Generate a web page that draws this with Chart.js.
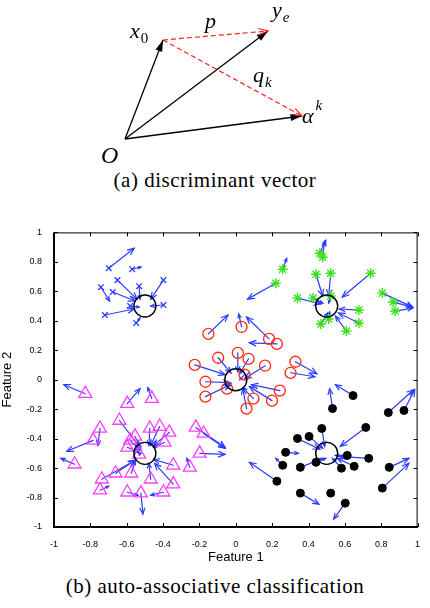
<!DOCTYPE html>
<html>
<head>
<meta charset="utf-8">
<script src="https://cdn.jsdelivr.net/npm/chart.js@4.4.1/dist/chart.umd.min.js"></script>
<style>
  html, body { margin: 0; padding: 0; background: #fff; }
  body { width: 430px; height: 608px; position: relative; overflow: hidden; }
  .box { position: absolute; left: 0; width: 430px; }
  .cap { position: absolute; left: 0; width: 430px; text-align: center; letter-spacing: 0.5px;
         font-family: 'Liberation Serif', 'DejaVu Serif', serif; font-size: 21px; color: #000; }
</style>
</head>
<body>
<div class="box" style="top:0;height:168px"><canvas id="vecChart"></canvas></div>
<div class="cap" style="top:168px">(a) discriminant vector</div>
<div class="box" style="top:220px;height:350px"><canvas id="clsChart"></canvas></div>
<div class="cap" style="top:574px">(b) auto-associative classification</div>
<script>
// ── (a) vector diagram ─────────────────────────────────────────────────────

const vecOrigin = [0, 0];
const vecX0     = [0.38, 0.99];
const vecYe     = [1.43, 1.08];
const vecAlpha  = [1.77, 0.23];

// label anchors (baseline-left of the main glyph)
const vecLabels = [
    { main: 'x', sub: '0', subItalic: false, at: [0.05, 1.01] },
    { main: 'y', sub: 'e', subItalic: true,  at: [1.47, 1.22] },
    { main: 'p',                              at: [0.80, 1.11] },
    { main: 'q', sub: 'k', subItalic: true,  at: [1.28, 0.57] },
    { main: 'α', sup: 'k',                    at: [1.77, 0.16] },
    { main: 'O', size: 24,                    at: [-0.24, -0.24] },
];

// ── (b) classification scatter ─────────────────────────────────────────────

const xTicks      = [-1, -0.8, -0.6, -0.4, -0.2, 0, 0.2, 0.4, 0.6, 0.8, 1];
const xTickLabels = ['-1', '-0.8', '-0.6', '-0.4', '-0.2', '0', '0.2', '0.4', '0.6', '0.8', '1'];
const yTicks      = [-1, -0.8, -0.6, -0.4, -0.2, 0, 0.2, 0.4, 0.6, 0.8, 1];
const yTickLabels = ['-1', '-0.8', '-0.6', '-0.4', '-0.2', '0', '0.2', '0.4', '0.6', '0.8', '1'];

const centers = [[-0.5, 0.5], [0.5, 0.5], [0, 0], [-0.5, -0.5], [0.5, -0.5]];

const crossStart = [[-0.699,0.757],[-0.570,0.750],[-0.651,0.676],[-0.742,0.628],[-0.677,0.595],[-0.532,0.635],
                    [-0.398,0.676],[-0.398,0.507],[-0.720,0.439],[-0.548,0.385],[-0.581,0.500]];
const crossEnd   = [[-0.559,0.892],[-0.522,0.764],[-0.543,0.547],[-0.694,0.534],[-0.554,0.534],[-0.527,0.547],
                    [-0.468,0.547],[-0.468,0.500],[-0.559,0.480],[-0.527,0.419],[-0.532,0.493]];

const starStart = [[0.462,0.858],[0.478,0.831],[0.258,0.750],[0.220,0.655],[0.441,0.716],[0.522,0.723],
                   [0.742,0.723],[0.339,0.554],[0.425,0.554],[0.522,0.568],[0.677,0.473],[0.677,0.385],
                   [0.608,0.331],[0.468,0.378],[0.511,0.412],[0.806,0.588],[0.866,0.527],[0.876,0.466]];
const starEnd   = [[0.495,0.946],[0.489,0.939],[0.280,0.824],[0.065,0.547],[0.478,0.568],[0.511,0.568],
                   [0.586,0.561],[0.468,0.514],[0.478,0.520],[0.511,0.520],[0.570,0.480],[0.565,0.453],
                   [0.548,0.432],[0.505,0.453],[0.516,0.459],[0.973,0.493],[0.973,0.493],[0.973,0.486]];

const ringStart = [[-0.151,0.311],[0.032,0.358],[0.183,0.277],[0.226,0.243],[-0.226,0.101],[-0.097,0.149],
                   [0.011,0.182],[0.070,0.142],[0.161,0.095],[0.048,0.034],[-0.167,-0.014],[-0.048,-0.061],
                   [-0.167,-0.115],[0.097,-0.128],[0.242,-0.074],[0.199,-0.142],[0.059,-0.196],[0.328,0.122],
                   [0.301,0.047]];
const ringEnd   = [[-0.043,0.439],[0.016,0.446],[0.059,0.426],[0.075,0.250],[-0.059,0.034],[-0.027,0.047],
                   [0.011,0.054],[0.022,0.041],[0.048,0.007],[0.022,0.000],[-0.032,-0.020],[-0.027,-0.027],
                   [-0.032,-0.034],[0.038,-0.054],[0.086,-0.034],[0.075,-0.047],[0.038,-0.061],[0.446,0.041],
                   [0.435,0.020]];

const triStart = [[-0.828,-0.095],[-0.597,-0.162],[-0.462,-0.128],[-0.747,-0.331],[-0.785,-0.412],[-0.640,-0.277],
                  [-0.581,-0.412],[-0.554,-0.385],[-0.597,-0.459],[-0.473,-0.331],[-0.419,-0.318],[-0.366,-0.358],
                  [-0.392,-0.426],[-0.220,-0.324],[-0.177,-0.365],[-0.199,-0.500],[-0.253,-0.595],[-0.344,-0.581],
                  [-0.344,-0.709],[-0.468,-0.676],[-0.575,-0.635],[-0.661,-0.635],[-0.737,-0.676],[-0.747,-0.750],
                  [-0.887,-0.574],[-0.597,-0.764],[-0.522,-0.770],[-0.398,-0.764],[-0.532,-0.507]];
const triEnd   = [[-0.946,-0.034],[-0.527,-0.061],[-0.484,-0.054],[-0.758,-0.446],[-0.930,-0.486],[-0.527,-0.459],
                  [-0.527,-0.480],[-0.522,-0.473],[-0.532,-0.493],[-0.478,-0.446],[-0.468,-0.446],[-0.452,-0.446],
                  [-0.452,-0.459],[-0.059,-0.459],[-0.059,-0.466],[-0.059,-0.507],[-0.269,-0.534],[-0.452,-0.541],
                  [-0.446,-0.568],[-0.478,-0.568],[-0.554,-0.554],[-0.554,-0.547],[-0.554,-0.547],[-0.699,-0.723],
                  [-0.962,-0.534],[-0.538,-0.784],[-0.511,-0.912],[-0.468,-0.784],[-0.522,-0.500]];

const dotStart = [[0.645,-0.108],[0.532,-0.196],[0.839,-0.223],[0.925,-0.209],[0.715,-0.324],[0.473,-0.331],
                  [0.339,-0.399],[0.403,-0.385],[0.274,-0.493],[0.258,-0.581],[0.355,-0.595],[0.441,-0.561],
                  [0.613,-0.514],[0.731,-0.534],[0.651,-0.588],[0.581,-0.601],[0.844,-0.595],[0.806,-0.736],
                  [0.226,-0.689],[0.355,-0.770],[0.522,-0.770],[0.602,-0.838]];
const dotEnd   = [[0.548,-0.034],[0.516,-0.061],[0.978,-0.068],[0.984,-0.068],[0.575,-0.453],[0.489,-0.453],
                  [0.462,-0.473],[0.478,-0.466],[0.344,-0.500],[0.220,-0.534],[0.478,-0.534],[0.495,-0.534],
                  [0.548,-0.514],[0.570,-0.520],[0.559,-0.534],[0.532,-0.534],[0.952,-0.534],[0.952,-0.568],
                  [0.075,-0.561],[0.457,-0.845],[0.522,-0.770],[0.538,-0.946]];

const QUIVER_BLUE = '#2a3cff';
const MATH_FONT   = "'Liberation Serif', 'DejaVu Serif', serif";
const AXIS_FONT   = "'Liberation Sans', Arial, sans-serif";

const toXY = arr => arr.map(([x, y]) => ({ x, y }));

// two-stroke "V" head or filled triangle at (x2,y2)
function arrowHead(ctx, x1, y1, x2, y2, len, spread, filled) {
    const ang = Math.atan2(y2 - y1, x2 - x1);
    const lx = x2 - len * Math.cos(ang - spread), ly = y2 - len * Math.sin(ang - spread);
    const rx = x2 - len * Math.cos(ang + spread), ry = y2 - len * Math.sin(ang + spread);
    ctx.beginPath();
    ctx.moveTo(lx, ly);
    ctx.lineTo(x2, y2);
    ctx.lineTo(rx, ry);
    if (filled) { ctx.closePath(); ctx.fill(); } else { ctx.stroke(); }
}

// ── Chart (a) ──────────────────────────────────────────────────────────────

const vecHeads = {
    id: 'vecHeads',
    afterDatasetsDraw(chart) {
        const ctx = chart.ctx;
        chart.data.datasets.forEach((ds, i) => {
            const pts = chart.getDatasetMeta(i).data;
            const a = pts[0], b = pts[1];
            ctx.save();
            ctx.setLineDash([]);
            ctx.fillStyle = ds.borderColor;
            ctx.strokeStyle = ds.borderColor;
            ctx.lineWidth = 1.1;
            if (ds.headFilled) arrowHead(ctx, a.x, a.y, b.x, b.y, 12, 0.3, true);
            else arrowHead(ctx, a.x, a.y, b.x, b.y, 10, 0.33, false);
            ctx.restore();
        });
    },
    afterDraw(chart) {
        const { ctx, scales: { x, y } } = chart;
        ctx.save();
        ctx.fillStyle = '#000';
        ctx.textBaseline = 'alphabetic';
        ctx.textAlign = 'left';
        vecLabels.forEach(l => {
            const px = x.getPixelForValue(l.at[0]);
            const py = y.getPixelForValue(l.at[1]);
            ctx.font = `italic ${l.size || 22}px ${MATH_FONT}`;
            ctx.fillText(l.main, px, py);
            const w = ctx.measureText(l.main).width;
            if (l.sub) {
                ctx.font = `${l.subItalic ? 'italic ' : ''}15px ${MATH_FONT}`;
                ctx.fillText(l.sub, px + w + 1, py + 5);
            }
            if (l.sup) {
                ctx.font = `italic 15px ${MATH_FONT}`;
                ctx.fillText(l.sup, px + w + 2, py - 13);
            }
        });
        ctx.restore();
    },
};

function vecDataset(from, to, color, dashed) {
    return {
        data: toXY([from, to]),
        showLine: true,
        borderColor: color,
        borderWidth: dashed ? 1.2 : 1.3,
        borderDash: dashed ? [5, 3] : [],
        pointRadius: 0,
        headFilled: !dashed,
    };
}

new Chart(document.getElementById('vecChart'), {
    type: 'scatter',
    data: {
        datasets: [
            vecDataset(vecOrigin, vecX0,    '#000', false),
            vecDataset(vecOrigin, vecYe,    '#000', false),
            vecDataset(vecOrigin, vecAlpha, '#000', false),
            vecDataset(vecX0,     vecYe,    '#ff2020', true),
            vecDataset(vecX0,     vecAlpha, '#ff2020', true),
        ],
    },
    options: {
        responsive: true,
        maintainAspectRatio: false,
        animation: false,
        events: [],
        layout: { padding: 0 },
        plugins: { legend: { display: false }, tooltip: { enabled: false } },
        scales: {
            x: { type: 'linear', min: -1.25, max: 3.05, display: false },
            y: { type: 'linear', min: -0.29, max: 1.39, display: false },
        },
    },
    plugins: [vecHeads],
});

// ── Chart (b) ──────────────────────────────────────────────────────────────

const quivers = [
    [crossStart, crossEnd],
    [starStart,  starEnd],
    [ringStart,  ringEnd],
    [triStart,   triEnd],
    [dotStart,   dotEnd],
];

const quiverPlugin = {
    id: 'quiver',
    beforeDatasetsDraw(chart) {
        const { ctx, scales: { x, y } } = chart;
        ctx.save();
        ctx.strokeStyle = QUIVER_BLUE;
        ctx.lineWidth = 1.2;
        ctx.lineCap = 'round';
        quivers.forEach(([from, to]) => {
            from.forEach((p, i) => {
                const x1 = x.getPixelForValue(p[0]), y1 = y.getPixelForValue(p[1]);
                const x2 = x.getPixelForValue(to[i][0]), y2 = y.getPixelForValue(to[i][1]);
                const len = Math.hypot(x2 - x1, y2 - y1);
                if (len < 1) return;
                ctx.beginPath();
                ctx.moveTo(x1, y1);
                ctx.lineTo(x2, y2);
                ctx.stroke();
                arrowHead(ctx, x1, y1, x2, y2, Math.max(2.5, Math.min(7, len * 0.3)), 0.4, false);
            });
        });
        ctx.restore();
    },
};

// box frame with inward ticks on all four sides
const framePlugin = {
    id: 'frame',
    afterDraw(chart) {
        const { ctx, chartArea: a, scales: { x, y } } = chart;
        ctx.save();
        ctx.strokeStyle = '#000';
        ctx.lineWidth = 1;
        ctx.beginPath();
        x.ticks.forEach(t => {
            const px = Math.round(x.getPixelForValue(t.value)) + 0.5;
            ctx.moveTo(px, a.bottom); ctx.lineTo(px, a.bottom - 4);
            ctx.moveTo(px, a.top);    ctx.lineTo(px, a.top + 4);
        });
        y.ticks.forEach(t => {
            const py = Math.round(y.getPixelForValue(t.value)) + 0.5;
            ctx.moveTo(a.left, py);  ctx.lineTo(a.left + 4, py);
            ctx.moveTo(a.right, py); ctx.lineTo(a.right - 4, py);
        });
        ctx.stroke();
        ctx.strokeRect(a.left, a.top + 0.5, a.right - a.left - 0.5, a.bottom - a.top);
        ctx.lineWidth = 2;
        ctx.beginPath();
        ctx.moveTo(a.left, a.top);
        ctx.lineTo(a.left, a.bottom);
        ctx.lineTo(a.right, a.bottom);
        ctx.stroke();
        ctx.restore();
    },
};

function markerSet(pts, style, radius, color, fill, width) {
    return {
        data: toXY(pts),
        pointStyle: style,
        pointRadius: radius,
        borderColor: color,
        backgroundColor: fill,
        pointBorderWidth: width,
        showLine: false,
    };
}

new Chart(document.getElementById('clsChart'), {
    type: 'scatter',
    data: {
        datasets: [
            markerSet(centers,    'circle',    11,  '#000',    'rgba(0,0,0,0)', 1.4),
            markerSet(crossStart, 'crossRot',  4,   QUIVER_BLUE, 'rgba(0,0,0,0)', 1.3),
            markerSet(starStart,  'star',      5,   '#3be01c', 'rgba(0,0,0,0)', 1.4),
            markerSet(ringStart,  'circle',    5.5, '#ff2a10', 'rgba(0,0,0,0)', 1.3),
            markerSet(triStart,   'triangle',  7.5, '#ff3cff', 'rgba(0,0,0,0)', 1.3),
            markerSet(dotStart,   'circle',    4,   '#000',    '#000',          1),
        ],
    },
    options: {
        responsive: true,
        maintainAspectRatio: false,
        animation: false,
        events: [],
        layout: { padding: { left: 0, right: 3, top: 11, bottom: 5 } },
        plugins: { legend: { display: false }, tooltip: { enabled: false } },
        scales: {
            x: {
                type: 'linear', min: -1, max: 1,
                afterBuildTicks: s => { s.ticks = xTicks.map(v => ({ value: v })); },
                afterFit: s => { s.height = 38; },
                grid: { display: false },
                border: { display: false },
                ticks: {
                    padding: 4, color: '#000', maxRotation: 0, autoSkip: false,
                    font: { family: AXIS_FONT, size: 9 },
                    callback: (v, i) => xTickLabels[i],
                },
                title: { display: true, text: 'Feature 1', color: '#000', padding: { top: 5, bottom: 0 },
                         font: { family: AXIS_FONT, size: 13 } },
            },
            y: {
                type: 'linear', min: -1, max: 1,
                afterBuildTicks: s => { s.ticks = yTicks.map(v => ({ value: v })); },
                afterFit: s => { s.width = 54; },
                grid: { display: false },
                border: { display: false },
                ticks: {
                    padding: 4, color: '#000', autoSkip: false,
                    font: { family: AXIS_FONT, size: 9 },
                    callback: (v, i) => yTickLabels[i],
                },
                title: { display: true, text: 'Feature 2', color: '#000', padding: { top: 0, bottom: 4 },
                         font: { family: AXIS_FONT, size: 13 } },
            },
        },
    },
    plugins: [quiverPlugin, framePlugin],
});
</script>
</body>
</html>
